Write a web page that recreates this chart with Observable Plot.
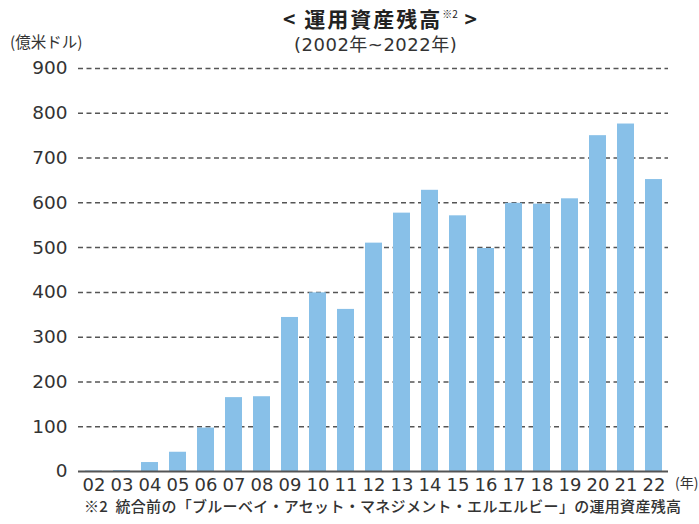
<!DOCTYPE html>
<html><head><meta charset="utf-8">
<script src="https://cdn.jsdelivr.net/npm/d3@7"></script>
<script src="https://cdn.jsdelivr.net/npm/@observablehq/plot@0.6"></script>
<style>
body{margin:0;background:#fff;font-family:"DejaVu Sans","Noto Sans CJK JP",sans-serif;color:#333;}
#wrap{position:relative;width:699px;height:524px;overflow:hidden;}
.t{position:absolute;white-space:nowrap;}
#title{left:283px;top:3px;font-size:21px;font-weight:bold;font-family:"Noto Sans CJK JP",sans-serif;color:#222;letter-spacing:2px;}
#title sup{font-size:10px;font-weight:normal;vertical-align:9px;letter-spacing:0;}
#sub{left:294px;top:30px;font-size:18px;color:#333;letter-spacing:0.5px;}
#ylab{left:10px;top:30px;font-size:15.5px;font-family:"Noto Sans CJK JP",sans-serif;color:#333;}
#note{left:84px;top:498px;line-height:1;font-size:15px;font-weight:500;font-family:"Noto Sans CJK JP",sans-serif;color:#333;letter-spacing:0.3px;}
#chart{position:absolute;left:0;top:0;}
</style></head>
<body><div id="wrap">
<div id="chart"></div>
<div class="t" id="title">&lt; 運用資産残高<sup>※2</sup> &gt;</div>
<div class="t" id="sub">(2002年~2022年)</div>
<div class="t" id="ylab">(億米ドル)</div>
<div class="t" id="note">※2&nbsp;&nbsp;統合前の「ブルーベイ・アセット・マネジメント・エルエルビー」の運用資産残高</div>
</div>
<script>
const years = ["02","03","04","05","06","07","08","09","10","11","12","13","14","15","16","17","18","19","20","21","22"];
const aum = [1,2,20,43,97,165,167,344,399,362,510,577,628,571,498,599,597,609,750,776,652];
const yTicks = [0,100,200,300,400,500,600,700,800,900];
const gridTicks = [100,200,300,400,500,600,700,800,900];

const data = years.map((y,i)=>({year:y, value:aum[i]}));

const chart = Plot.plot({
  width: 699,
  height: 524,
  marginTop: 68,
  marginBottom: 53,
  marginLeft: 78,
  marginRight: 31,
  style: {fontFamily: '"DejaVu Sans","Noto Sans CJK JP",sans-serif', fontSize: "17px", color: "#333", background: "transparent", overflow: "visible"},
  x: {domain: years, paddingInner: 0.4, paddingOuter: 0.16, label: null},
  y: {domain: [0, 900], label: null},
  marks: [
    Plot.ruleY(gridTicks, {stroke: "#555", strokeWidth: 1.5, strokeDasharray: "5,3.5"}),
    Plot.barY(data, {x: "year", y: "value", fill: "#88c0e8"}),
    Plot.ruleY([0], {stroke: "#555", strokeWidth: 1.8}),
    Plot.axisY({ticks: yTicks, tickSize: 0, tickPadding: 11, label: null, fontSize: 18.5}),
    Plot.axisX({tickSize: 0, tickPadding: 7, label: null, fontSize: 18}),
    Plot.text(["(年)"], {frameAnchor: "bottom-right", dx: 30, dy: 16, fontSize: 14, fontFamily: '"Noto Sans CJK JP",sans-serif'})
  ]
});
document.getElementById("chart").appendChild(chart);
</script>
</body></html>
